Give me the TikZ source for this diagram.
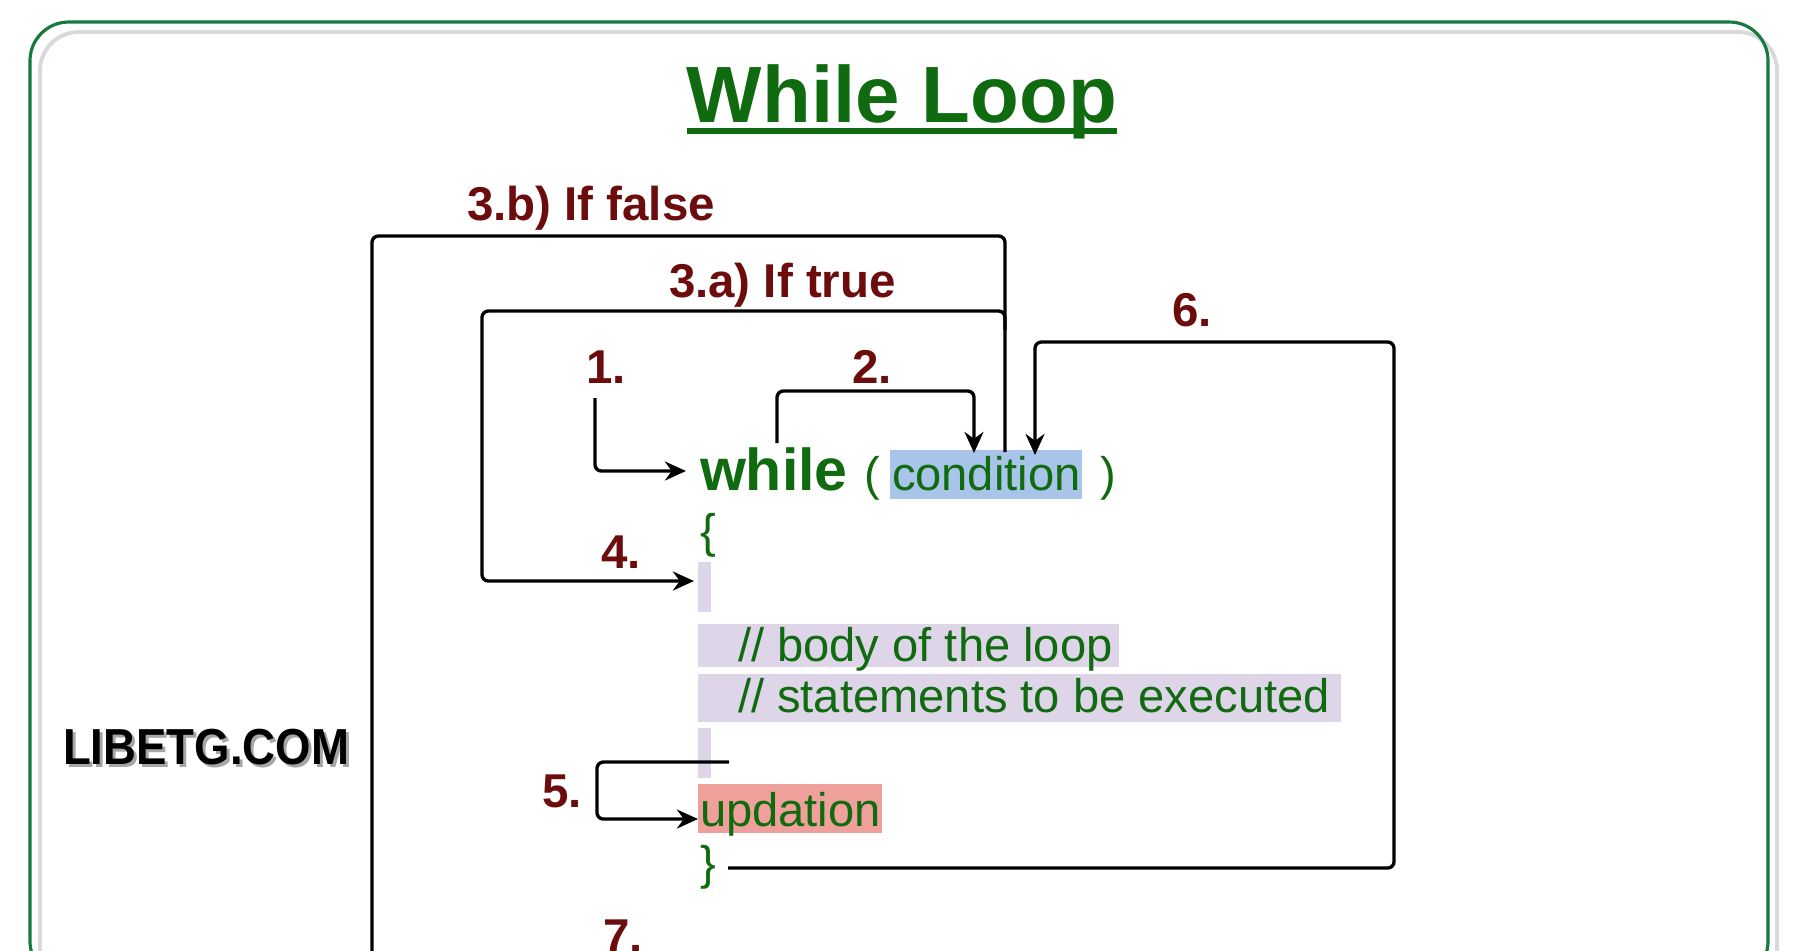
\documentclass[tikz,border=0pt]{standalone}
\usepackage{fontspec}
\setmainfont{Liberation Sans}
\usetikzlibrary{arrows.meta}
\definecolor{framegreen}{RGB}{22,122,62}
\definecolor{codegreen}{RGB}{16,106,16}
\definecolor{labelred}{RGB}{108,12,12}
\definecolor{condblue}{RGB}{168,196,232}
\definecolor{bodylav}{RGB}{222,214,232}
\definecolor{updsalmon}{RGB}{240,160,154}
\tikzset{
  txt/.style={inner sep=0pt, outer sep=0pt, anchor=base west},
  lbl/.style={txt, text=labelred, font=\fontsize{13.5}{16}\selectfont\bfseries},
  code/.style={txt, text=codegreen, font=\fontsize{13.4}{16}\selectfont},
  logofont/.style={txt, font=\fontsize{14.4}{16}\selectfont\bfseries, xscale=0.9},
  conn/.style={draw=black, line width=0.95pt, rounded corners=1.8pt},
  arr/.style={conn, -{Stealth[length=6pt,width=5.4pt]}},
}
\begin{document}
\begin{tikzpicture}[x=0.01cm,y=-0.01cm]
\useasboundingbox (0,0) rectangle (1794,950);
\fill[white] (0,0) rectangle (1794,950);
% frame
\draw[gray!30, line width=1.1pt, rounded corners=11pt] (40,32) rectangle (1777,990);
\draw[framegreen, line width=0.9pt, rounded corners=11pt] (30,22) rectangle (1768,980);
% title
\node[txt, anchor=base, text=codegreen, font=\fontsize{22.7}{27}\selectfont\bfseries] (title) at (902,122) {While Loop};
\draw[codegreen, line width=1.5pt] ([yshift=-0.09cm]title.base west) -- ([yshift=-0.09cm]title.base east);
% logo
\node[logofont, text=black!35] at (66,767) {LIBETG.COM};
\node[logofont, text=black] (logo) at (63,764) {LIBETG.COM};
% highlight boxes
\fill[condblue] (890,450) rectangle (1082,499);
\fill[bodylav] (698,562) rectangle (711,612);
\fill[bodylav] (698,624) rectangle (1119,667);
\fill[bodylav] (698,674) rectangle (1341,722);
\fill[bodylav] (698,728) rectangle (711,778);
\fill[updsalmon] (698,784) rectangle (882,833);
% code text
\node[code, font=\fontsize{16.8}{20}\selectfont\bfseries] (while) at (700,490) {while};
\node[code] (popen) at (864,490) {(};
\node[code] (cond) at (892,490) {condition};
\node[code] (pclose) at (1100,490) {)};
\node[code] (bopen) at (700,547) {\{};
\node[code] (body1) at (738,661) {// body of the loop};
\node[code] (body2) at (738,712) {// statements to be executed};
\node[code] (upd) at (700,826) {updation};
\node[code] (bclose) at (700,879) {\}};
% labels
\node[lbl] (l3b) at (467,220) {3.b) If false};
\node[lbl] (l3a) at (669,297) {3.a) If true};
\node[lbl] (l1) at (586,383) {1.};
\node[lbl] (l2) at (852,383) {2.};
\node[lbl] (l6) at (1172,326) {6.};
\node[lbl] (l4) at (601,568) {4.};
\node[lbl] (l5) at (542,807) {5.};
\node[lbl] (l7) at (603,952) {7.};
% connector coordinates
\coordinate (s1) at (595,398);
\coordinate (t1) at (686,471);
\coordinate (s2) at (777,443);
\coordinate (t2) at (974,453);
\coordinate (s3) at (1005,452);
\coordinate (j3) at (1005,311);
\coordinate (e3b) at (372,990);
\coordinate (t4) at (694,581);
\coordinate (s6) at (728,868);
\coordinate (t6) at (1035,455);
\coordinate (s5) at (729,762);
\coordinate (t5) at (698,819);
% connectors
\draw[arr] (s1) |- (t1);
\draw[arr] (s2) -- (777,391) -- (974,391) -- (t2);
\draw[conn] (s3) -- (1005,236) -- (372,236) -- (e3b);
\draw[arr] (1005,330) -- (j3) -- (482,311) -- (482,581) -- (t4);
\draw[arr] (s6) -- (1394,868) -- (1394,342) -- (1035,342) -- (t6);
\draw[arr] (s5) -- (597,762) -- (597,819) -- (t5);
\end{tikzpicture}
\end{document}
